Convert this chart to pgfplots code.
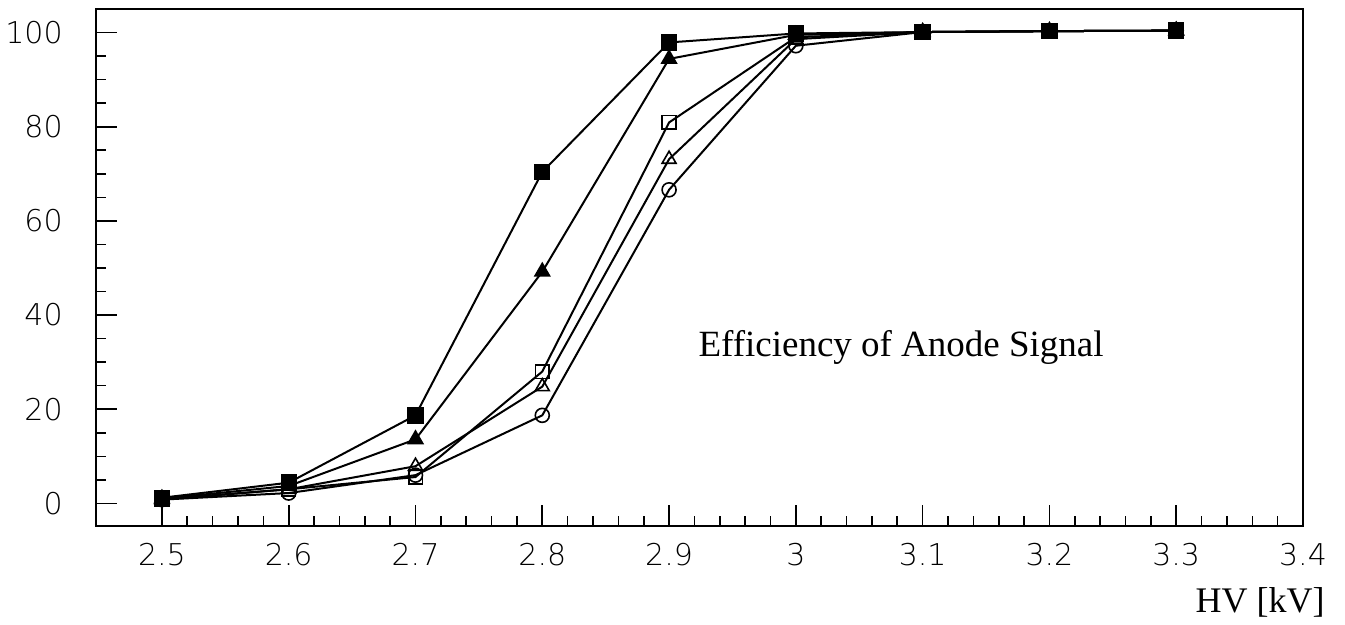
\documentclass[border=0pt]{standalone}
\usepackage{pgfplots}
\pgfplotsset{compat=1.18}
\usepackage{fontspec}
\setmainfont{Liberation Serif}
\IfFontExistsTF{DejaVu Sans ExtraLight}{\newfontfamily\tickfont{DejaVu Sans ExtraLight}}{\newfontfamily\tickfont{DejaVu Sans}}
\begin{document}
\begin{tikzpicture}
\begin{axis}[
  scale only axis,
  width=603.5bp, height=258.5bp,
  xmin=2.448, xmax=3.4,
  ymin=-4.8, ymax=105,
  axis line style={line width=1bp},
  xtick={2.5,2.6,2.7,2.8,2.9,3.0,3.1,3.2,3.3,3.4},
  xticklabels={2.5,2.6,2.7,2.8,2.9,3,3.1,3.2,3.3,3.4},
  minor x tick num=4,
  ytick={0,20,40,60,80,100},
  minor y tick num=3,
  tick align=inside,
  xtick pos=bottom, ytick pos=left,
  major tick length=10.5bp, minor tick length=5bp,
  tick style={line width=0.8bp, black},
  /pgf/number format/assume math mode=true,
  ticklabel style={font=\tickfont\fontsize{15bp}{15bp}\selectfont, inner sep=0pt},
  xticklabel style={yshift=-8.5bp},
  yticklabel style={xshift=-16.5bp},
  xlabel={HV [kV]},
  xlabel style={at={(axis description cs:1,0)}, anchor=base east, xshift=11bp, yshift=-43bp, inner sep=0pt, font=\fontsize{18bp}{18bp}\selectfont},
  every axis plot/.append style={line width=1bp, black},
  clip=false,
]
\addplot[mark=o, mark size=3.5bp, mark options={fill=white, line width=0.8bp}] coordinates {
(2.5,0.8) (2.6,2.2) (2.7,6.0) (2.8,18.7) (2.9,66.6) (3.0,97.2) (3.1,100.1) (3.2,100.3) (3.3,100.4)};
\addplot[mark=triangle, mark size=4bp, mark options={fill=white, line width=0.8bp}] coordinates {
(2.5,0.8) (2.6,3.0) (2.7,7.9) (2.8,24.8) (2.9,73.1) (3.0,98.6) (3.1,100.1) (3.2,100.3) (3.3,100.4)};
\addplot[mark=square, mark size=3.4bp, mark options={fill=white, line width=0.8bp}] coordinates {
(2.5,0.9) (2.6,3.0) (2.7,5.6) (2.8,28.0) (2.9,80.9) (3.0,99.0) (3.1,100.1) (3.2,100.3) (3.3,100.4)};
\addplot[mark=triangle*, mark size=4bp, mark options={fill=black}] coordinates {
(2.5,1.0) (2.6,3.7) (2.7,13.6) (2.8,49.2) (2.9,94.4) (3.0,99.5) (3.1,100.1) (3.2,100.3) (3.3,100.4)};
\addplot[mark=square*, mark size=3.6bp, mark options={fill=black}] coordinates {
(2.5,1.2) (2.6,4.4) (2.7,18.7) (2.8,70.4) (2.9,97.9) (3.0,99.8) (3.1,100.1) (3.2,100.3) (3.3,100.4)};
\node[anchor=base, inner sep=0pt, font=\fontsize{18.5bp}{18.5bp}\selectfont] at (axis cs:3.083,31.3) {Efficiency of Anode Signal};
\coordinate (LL) at (rel axis cs:0,0);
\coordinate (UR) at (rel axis cs:1,1);
\end{axis}
\pgfresetboundingbox
\path[use as bounding box] ([shift={(-48bp,-49.5bp)}]LL) rectangle ([shift={(21bp,4.5bp)}]UR);
\end{tikzpicture}
\end{document}
